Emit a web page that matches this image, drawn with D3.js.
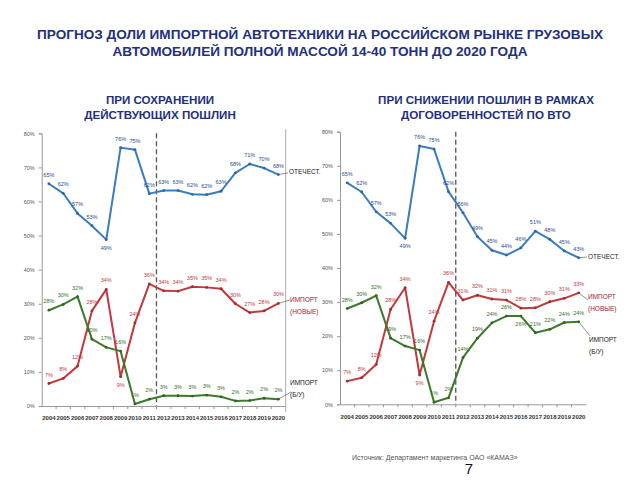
<!DOCTYPE html>
<html><head><meta charset="utf-8">
<script src="https://cdn.jsdelivr.net/npm/d3@7"></script>
<style>body{margin:0;background:#fff}svg{display:block;font-family:"Liberation Sans",Arial,sans-serif}</style>
</head><body><svg id="c" width="640" height="480"></svg>
<script>
const years = ['2004','2005','2006','2007','2008','2009','2010','2011','2012','2013','2014','2015','2016','2017','2018','2019','2020'];
const yTicks = [0,10,20,30,40,50,60,70,80];
// Scenario 1: current duties
const domesticCurrent  = [65.2,62.4,56.5,52.9,48.8,75.8,75.2,62.3,63.2,63.2,62.1,62.0,63.0,68.4,71.0,69.8,67.9];
const importNewCurrent = [6.6,8.1,11.7,27.9,34.2,8.6,24.4,35.8,33.8,33.7,35.0,34.8,34.4,30.0,27.4,27.9,30.1];
const importUsedCurrent= [28.1,29.8,32.1,19.6,17.2,16.1,0.6,2.0,3.0,3.0,2.9,3.2,2.7,1.5,1.6,2.3,2.0];
// Scenario 2: WTO duty reduction
const domesticWTO  = [65.0,62.3,56.5,53.1,48.7,75.8,74.9,62.4,56.2,49.2,45.2,43.8,45.9,50.8,48.4,45.0,43.0];
const importNewWTO = [6.8,7.8,11.7,27.9,34.2,8.6,24.4,35.8,30.6,32.0,30.9,30.6,28.2,28.3,30.1,31.1,32.7];
const importUsedWTO= [28.1,29.8,31.9,19.4,17.1,15.9,0.6,1.9,13.7,19.4,23.9,25.9,25.9,21.0,22.0,24.0,24.2];
const seriesNames = [['ОТЕЧЕСТ.'],['ИМПОРТ','(НОВЫЕ)'],['ИМПОРТ','(Б/У)']];
const titleLines = ['ПРОГНОЗ ДОЛИ ИМПОРТНОЙ АВТОТЕХНИКИ НА РОССИЙСКОМ РЫНКЕ ГРУЗОВЫХ','АВТОМОБИЛЕЙ ПОЛНОЙ МАССОЙ 14-40 ТОНН ДО 2020 ГОДА'];
const subtitleLeft = ['ПРИ СОХРАНЕНИИ','ДЕЙСТВУЮЩИХ ПОШЛИН'];
const subtitleRight = ['ПРИ СНИЖЕНИИ ПОШЛИН В РАМКАХ','ДОГОВОРЕННОСТЕЙ ПО ВТО'];
const sourceText = 'Источник: Департамент маркетинга ОАО «КАМАЗ»';
const pageNumber = '7';

const svg = d3.select('#c');
const navy = '#23307a';
const colors = {line:['#3a7cc3','#c4373c','#3b7a2b'], label:['#2b4c8c','#c23a3f','#356d2c']};

svg.selectAll('text.title').data(titleLines).join('text')
  .attr('x',320).attr('y',(d,i)=>39+i*16.5).attr('text-anchor','middle')
  .attr('font-size',13.6).attr('font-weight','bold').attr('fill',navy).text(d=>d);

function subtitle(lines,cx){
  svg.append('g').selectAll('text').data(lines).join('text')
    .attr('x',cx).attr('y',(d,i)=>104+i*15).attr('text-anchor','middle')
    .attr('font-size',11.6).attr('font-weight','bold').attr('fill',navy).text(d=>d);
}
subtitle(subtitleLeft,160);
subtitle(subtitleRight,486);

function chart(cfg){
  const g = svg.append('g');
  const x = d3.scaleBand().domain(years).range([cfg.x0,cfg.x1]).paddingInner(0).paddingOuter(0);
  const y = d3.scaleLinear().domain([0,80]).range([cfg.yBot,cfg.yTop]);
  const cx = d=>x(d)+x.bandwidth()/2;
  const ya = g.append('g').attr('transform',`translate(${cfg.x0},0)`)
    .call(d3.axisLeft(y).tickValues(yTicks).tickSize(3).tickFormat(d=>d+'%'));
  ya.select('.domain').attr('stroke','#999');
  ya.selectAll('.tick line').attr('stroke','#999');
  ya.selectAll('text').attr('font-size',5.5).attr('fill','#555').attr('font-family','Liberation Sans, Arial, sans-serif').attr('dx',-1);
  const xa = g.append('g').attr('transform',`translate(0,${cfg.yBot})`)
    .call(d3.axisBottom(x).tickSize(0).tickPadding(10));
  xa.select('.domain').attr('stroke','#999');
  xa.selectAll('text').attr('font-size',6).attr('font-weight','bold').attr('fill','#333').attr('font-family','Liberation Sans, Arial, sans-serif');
  g.append('g').selectAll('line').data(years.slice(1)).join('line')
    .attr('x1',d=>x(d)).attr('x2',d=>x(d)).attr('y1',cfg.yBot).attr('y2',cfg.yBot+3).attr('stroke','#999');
  if(cfg.rightBorder){
    g.append('line').attr('x1',cfg.x1).attr('x2',cfg.x1).attr('y1',cfg.yTop-4).attr('y2',cfg.yBot+6).attr('stroke','#bbb').attr('stroke-width',1.2);
  }
  g.append('line').attr('x1',x('2012')).attr('x2',x('2012')).attr('y1',cfg.yTop).attr('y2',cfg.yBot)
    .attr('stroke','#555').attr('stroke-width',1.3).attr('stroke-dasharray','5,3');
  const line = d3.line().x((d,i)=>cx(years[i])).y(d=>y(d));
  cfg.series.forEach((s,k)=>{
    g.append('path').datum(s).attr('d',line).attr('fill','none').attr('stroke',colors.line[k]).attr('stroke-width',2).attr('stroke-linejoin','round');
    g.append('g').selectAll('circle').data(s).join('circle')
      .attr('cx',(d,i)=>cx(years[i])).attr('cy',d=>y(d)).attr('r',1.4).attr('fill',d3.color(colors.line[k]).darker(0.6));
    const below = cfg.below[k]||[];
    g.append('g').selectAll('text').data(s).join('text')
      .attr('x',(d,i)=>cx(years[i])).attr('y',(d,i)=>below.includes(i)? y(d)+10 : y(d)-7)
      .attr('text-anchor','middle').attr('font-size',5.5).attr('fill',colors.label[k])
      .text(d=>Math.round(d)+'%');
    const last = s[s.length-1];
    const lx = cx(years[years.length-1]);
    const nm = cfg.names[k];
    g.append('line').attr('x1',lx).attr('y1',y(last)).attr('x2',nm.lx).attr('y2',nm.ly)
      .attr('stroke','#666').attr('stroke-width',0.7);
    g.append('g').selectAll('text').data(seriesNames[k]).join('text')
      .attr('x',nm.tx).attr('y',(d,i)=>nm.ty+i*12).attr('dy','0.35em')
      .attr('font-size',6.5).attr('fill',k===1?'#a0262b':'#222').text(d=>d);
  });
}

chart({x0:41.7,x1:285.6,yTop:133.3,yBot:406,rightBorder:true,
  series:[domesticCurrent,importNewCurrent,importUsedCurrent],
  below:[[4],[5],[]],
  names:[{lx:288,ly:173,tx:289,ty:172},{lx:290,ly:300,tx:290,ty:300},{lx:291,ly:392,tx:290,ty:383}]});
chart({x0:340,x1:586,yTop:131.7,yBot:404.3,rightBorder:false,
  series:[domesticWTO,importNewWTO,importUsedWTO],
  below:[[4],[5],[12]],
  names:[{lx:587,ly:257,tx:588,ty:257},{lx:588,ly:300,tx:588,ty:297},{lx:590,ly:336,tx:589,ty:340}]});

svg.append('text').attr('x',352).attr('y',460).attr('font-size',7).attr('fill','#555').text(sourceText);
svg.append('text').attr('x',469).attr('y',474).attr('text-anchor','middle').attr('font-size',15).attr('fill','#111').text(pageNumber);
</script></body></html>
